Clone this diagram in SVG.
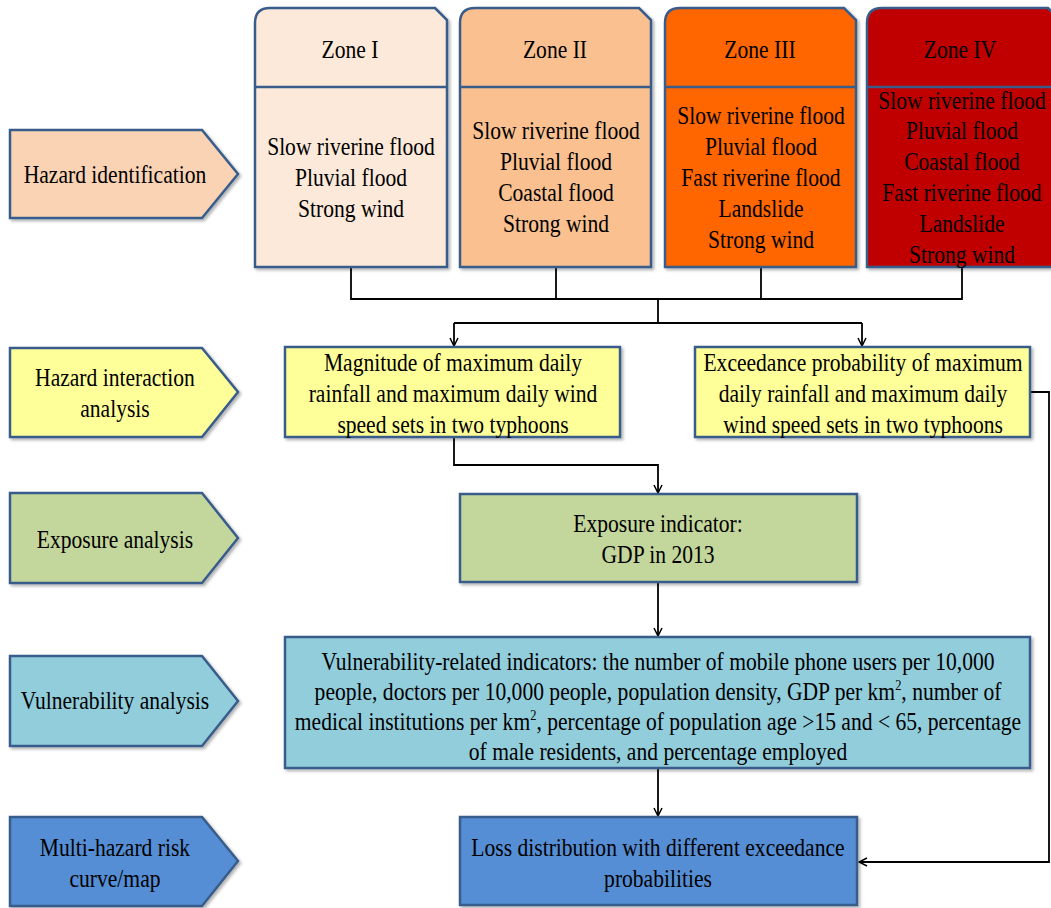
<svg xmlns="http://www.w3.org/2000/svg" width="1051" height="908" viewBox="0 0 1051 908">
<defs>
<style>
text{font-family:"Liberation Serif","Times New Roman",serif;font-size:26px;fill:#000;text-anchor:middle}
.box{stroke:#385D8A;stroke-width:2.5}
.conn{fill:none;stroke:#000;stroke-width:1.8}
.sup{font-size:15px}
</style>
<filter id="sh" x="-5%" y="-5%" width="115%" height="115%">
<feDropShadow dx="2" dy="2" stdDeviation="1.5" flood-color="#000" flood-opacity="0.3"/>
</filter>
<marker id="arr" viewBox="0 0 10 10" refX="9" refY="5" markerWidth="10" markerHeight="10" markerUnits="userSpaceOnUse" orient="auto">
<path d="M1,1 L9,5 L1,9" fill="none" stroke="#000" stroke-width="1.5"/>
</marker>
</defs>
<rect width="1051" height="908" fill="#fff"/>

<g id="connectors">
<path class="conn" d="M351,267 V299 H962 V267"/>
<path class="conn" d="M556,267 V299"/>
<path class="conn" d="M761,267 V299"/>
<path class="conn" d="M658,299 V323"/>
<path class="conn" d="M454,323 H862"/>
<path class="conn" d="M454,323 V346" marker-end="url(#arr)"/>
<path class="conn" d="M862,323 V346" marker-end="url(#arr)"/>
<path class="conn" d="M454,437 V465 H658 V493" marker-end="url(#arr)"/>
<path class="conn" d="M658,582 V636" marker-end="url(#arr)"/>
<path class="conn" d="M658,768 V816" marker-end="url(#arr)"/>
<path class="conn" d="M1030,392 H1049 V862 H859" marker-end="url(#arr)"/>
</g>

<g id="step-hazard-identification">
<path class="box" filter="url(#sh)" fill="#FAD3B5" d="M10,130 H202 L238,174 L202,218 H10 Z"/>
<text transform="scale(0.83 1)" x="138.55" y="183">Hazard identification</text>
</g>
<g id="step-hazard-interaction">
<path class="box" filter="url(#sh)" fill="#FFFF99" d="M10,348 H202 L238,392 L202,437 H10 Z"/>
<text transform="scale(0.83 1)" x="138.55" y="386">Hazard interaction</text>
<text transform="scale(0.83 1)" x="138.55" y="417">analysis</text>
</g>
<g id="step-exposure">
<path class="box" filter="url(#sh)" fill="#C3D69B" d="M10,493 H202 L238,538 L202,583 H10 Z"/>
<text transform="scale(0.83 1)" x="138.55" y="548">Exposure analysis</text>
</g>
<g id="step-vulnerability">
<path class="box" filter="url(#sh)" fill="#92CDDC" d="M10,656 H202 L238,701 L202,746 H10 Z"/>
<text transform="scale(0.83 1)" x="138.55" y="709">Vulnerability analysis</text>
</g>
<g id="step-risk">
<path class="box" filter="url(#sh)" fill="#558ED5" d="M10,817 H202 L238,861 L202,906 H10 Z"/>
<text transform="scale(0.83 1)" x="138.55" y="856">Multi-hazard risk</text>
<text transform="scale(0.83 1)" x="138.55" y="887">curve/map</text>
</g>

<g id="zone-1">
<path class="box" filter="url(#sh)" fill="#FDE9D9" d="M255,267 V23 Q255,8 270,8 H435 L447,20 V267 Z"/>
<line class="box" x1="255" y1="87" x2="447" y2="87"/>
<text transform="scale(0.83 1)" x="421.69" y="58">Zone I</text>
<text transform="scale(0.83 1)" x="422.89" y="155">Slow riverine flood</text>
<text transform="scale(0.83 1)" x="422.89" y="186">Pluvial flood</text>
<text transform="scale(0.83 1)" x="422.89" y="217">Strong wind</text>
</g>
<g id="zone-2">
<path class="box" filter="url(#sh)" fill="#FAC090" d="M460,267 V23 Q460,8 475,8 H639 L651,20 V267 Z"/>
<line class="box" x1="460" y1="87" x2="651" y2="87"/>
<text transform="scale(0.83 1)" x="668.67" y="58">Zone II</text>
<text transform="scale(0.83 1)" x="669.88" y="139">Slow riverine flood</text>
<text transform="scale(0.83 1)" x="669.88" y="170">Pluvial flood</text>
<text transform="scale(0.83 1)" x="669.88" y="201">Coastal flood</text>
<text transform="scale(0.83 1)" x="669.88" y="232">Strong wind</text>
</g>
<g id="zone-3">
<path class="box" filter="url(#sh)" fill="#FF6600" d="M665,267 V23 Q665,8 680,8 H844 L856,20 V267 Z"/>
<line class="box" x1="665" y1="87" x2="856" y2="87"/>
<text transform="scale(0.83 1)" x="915.66" y="58">Zone III</text>
<text transform="scale(0.83 1)" x="916.87" y="124">Slow riverine flood</text>
<text transform="scale(0.83 1)" x="916.87" y="155">Pluvial flood</text>
<text transform="scale(0.83 1)" x="916.87" y="186">Fast riverine flood</text>
<text transform="scale(0.83 1)" x="916.87" y="217">Landslide</text>
<text transform="scale(0.83 1)" x="916.87" y="248">Strong wind</text>
</g>
<g id="zone-4">
<path class="box" filter="url(#sh)" fill="#C00000" d="M867,267 V23 Q867,8 882,8 H1048 L1060,20 V267 Z"/>
<line class="box" x1="867" y1="87" x2="1060" y2="87"/>
<text transform="scale(0.83 1)" x="1156.63" y="58">Zone IV</text>
<text transform="scale(0.83 1)" x="1159.04" y="109">Slow riverine flood</text>
<text transform="scale(0.83 1)" x="1159.04" y="139">Pluvial flood</text>
<text transform="scale(0.83 1)" x="1159.04" y="170">Coastal flood</text>
<text transform="scale(0.83 1)" x="1159.04" y="201">Fast riverine flood</text>
<text transform="scale(0.83 1)" x="1159.04" y="232">Landslide</text>
<text transform="scale(0.83 1)" x="1159.04" y="263">Strong wind</text>
</g>

<g id="magnitude">
<rect class="box" filter="url(#sh)" fill="#FFFF99" x="285" y="347" width="335" height="90"/>
<text transform="scale(0.83 1)" x="545.78" y="371">Magnitude of maximum daily</text>
<text transform="scale(0.83 1)" x="545.78" y="402">rainfall and maximum daily wind</text>
<text transform="scale(0.83 1)" x="545.78" y="433">speed sets in two typhoons</text>
</g>
<g id="exceedance">
<rect class="box" filter="url(#sh)" fill="#FFFF99" x="695" y="347" width="335" height="90"/>
<text transform="scale(0.83 1)" x="1039.76" y="371">Exceedance probability of maximum</text>
<text transform="scale(0.83 1)" x="1039.76" y="402">daily rainfall and maximum daily</text>
<text transform="scale(0.83 1)" x="1039.76" y="433">wind speed sets in two typhoons</text>
</g>
<g id="exposure-indicator">
<rect class="box" filter="url(#sh)" fill="#C3D69B" x="460" y="494" width="397" height="88"/>
<text transform="scale(0.83 1)" x="792.77" y="532">Exposure indicator:</text>
<text transform="scale(0.83 1)" x="792.77" y="563">GDP in 2013</text>
</g>
<g id="vulnerability-indicators">
<rect class="box" filter="url(#sh)" fill="#92CDDC" x="285" y="637" width="745" height="131"/>
<text transform="scale(0.83 1)" x="792.77" y="670">Vulnerability-related indicators: the number of mobile phone users per 10,000</text>
<text transform="scale(0.83 1)" x="792.77" y="700">people, doctors per 10,000 people, population density, GDP per km<tspan class="sup" dy="-10">2</tspan><tspan dy="10">, number of</tspan></text>
<text transform="scale(0.83 1)" x="792.77" y="730">medical institutions per km<tspan class="sup" dy="-10">2</tspan><tspan dy="10">, percentage of population age &gt;15 and &lt; 65, percentage</tspan></text>
<text transform="scale(0.83 1)" x="792.77" y="760">of male residents, and percentage employed</text>
</g>
<g id="loss-distribution">
<rect class="box" filter="url(#sh)" fill="#558ED5" x="460" y="817" width="397" height="88"/>
<text transform="scale(0.83 1)" x="792.77" y="856">Loss distribution with different exceedance</text>
<text transform="scale(0.83 1)" x="792.77" y="887">probabilities</text>
</g>
</svg>
